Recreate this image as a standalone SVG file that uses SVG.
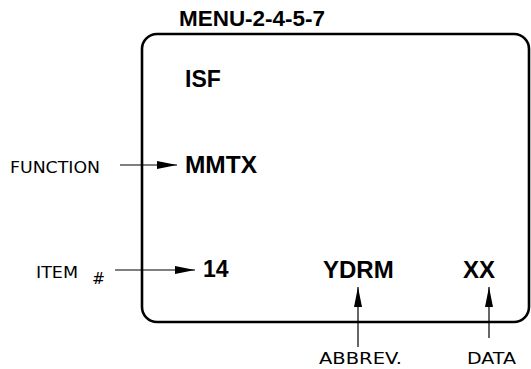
<svg xmlns="http://www.w3.org/2000/svg" width="531" height="369" viewBox="0 0 531 369">
<defs>
<marker id="ah" viewBox="0 0 20 8" refX="20" refY="4" markerWidth="20" markerHeight="8" markerUnits="userSpaceOnUse" orient="auto">
<path d="M0,0 L20,4 L0,8 Z" fill="#000"/>
</marker>
</defs>
<style>
.scr{font-family:"Liberation Sans",Arial,sans-serif;font-weight:bold;fill:#000}
.lbl{font-family:"DejaVu Sans","Liberation Sans",sans-serif;font-size:16px;fill:#000}
.conn{stroke:#000;stroke-width:1.2;fill:none}
</style>
<g id="title"><text class="scr" x="179" y="26" font-size="22" textLength="146" lengthAdjust="spacingAndGlyphs">MENU-2-4-5-7</text></g>
<g id="screen">
<rect x="142" y="34" width="387" height="288" rx="15" ry="15" fill="none" stroke="#000" stroke-width="2.6"/>
</g>
<g id="isf"><text class="scr" x="185" y="87" font-size="23">ISF</text></g>
<g id="mmtx"><text class="scr" x="185" y="173" font-size="23" textLength="72" lengthAdjust="spacingAndGlyphs">MMTX</text></g>
<g id="item14"><text class="scr" x="203" y="277" font-size="23">14</text></g>
<g id="ydrm"><text class="scr" x="323" y="278" font-size="24">YDRM</text></g>
<g id="xx"><text class="scr" x="463" y="278" font-size="24">XX</text></g>
<g id="function"><text class="lbl" x="10" y="173" textLength="90" lengthAdjust="spacingAndGlyphs">FUNCTION</text></g>
<g id="item"><text class="lbl" x="36" y="278" textLength="42" lengthAdjust="spacingAndGlyphs">ITEM</text><text class="lbl" x="92" y="284" font-size="19" textLength="13" lengthAdjust="spacingAndGlyphs">#</text></g>
<g id="abbrev"><text class="lbl" x="319" y="364" textLength="83" lengthAdjust="spacingAndGlyphs">ABBREV.</text></g>
<g id="data"><text class="lbl" x="467" y="364" textLength="49" lengthAdjust="spacingAndGlyphs">DATA</text></g>
<g id="connectors">
<line class="conn" x1="120" y1="165" x2="177" y2="165" marker-end="url(#ah)"/>
<line class="conn" x1="115" y1="270" x2="195" y2="270" marker-end="url(#ah)"/>
<line class="conn" x1="358" y1="347" x2="358" y2="287" marker-end="url(#ah)"/>
<line class="conn" x1="489" y1="338" x2="489" y2="287" marker-end="url(#ah)"/>
</g>
</svg>
